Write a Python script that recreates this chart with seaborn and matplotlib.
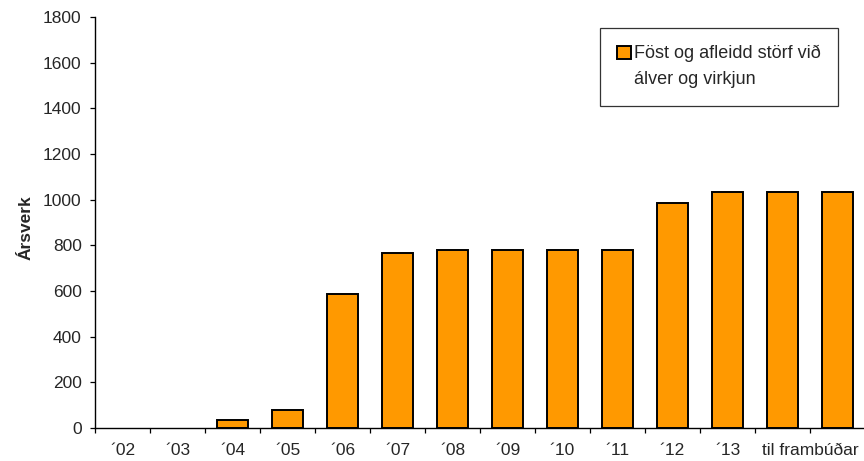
import matplotlib
matplotlib.use("Agg")
import matplotlib.pyplot as plt
from matplotlib.patches import Patch
import seaborn as sns
import pandas as pd

categories = ["´02", "´03", "´04", "´05", "´06", "´07", "´08", "´09", "´10", "´11", "´12", "´13", "c14", "c15"]
values = [0, 0, 35, 80, 585, 765, 780, 780, 780, 780, 985, 1035, 1035, 1035]
tick_labels = ["´02", "´03", "´04", "´05", "´06", "´07", "´08", "´09", "´10", "´11", "´12", "´13", "til frambúðar"]
series_lines = ["Föst og afleidd störf við", "álver og virkjun"]
y_ticks = [0, 200, 400, 600, 800, 1000, 1200, 1400, 1600, 1800]

sns.set_theme(style="white")
plt.rcParams['font.family'] = ['Liberation Sans', 'DejaVu Sans']

df = pd.DataFrame({"cat": categories, "val": values})

fig = plt.figure(figsize=(8.64, 4.61), dpi=100)
ax = fig.add_axes([95/864, 1 - 428/461, 770/864, 411/461])

sns.barplot(data=df, x="cat", y="val", color="#FF9900", edgecolor="black",
            linewidth=1.4, width=0.58, saturation=1, ax=ax)

ax.set_xlim(-0.5, len(categories) - 0.5)
ax.set_ylim(0, 1800)
ax.set_yticks(y_ticks)
ax.set_yticklabels([str(v) for v in y_ticks], fontsize=12.5)

# category boundaries as major ticks, labels as minor ticks
ax.xaxis.remove_overlapping_locs = False
bounds = [i - 0.5 for i in range(len(categories) + 1)]
ax.set_xticks(bounds)
ax.set_xticklabels([""] * len(bounds))
label_pos = list(range(len(tick_labels) - 1)) + [len(categories) - 1.5]
ax.set_xticks(label_pos, minor=True)
ax.set_xticklabels(tick_labels, minor=True, fontsize=12.5)
ax.tick_params(axis="x", which="major", direction="out", length=3.6, width=0.9, color="black", bottom=True)
ax.tick_params(axis="x", which="minor", length=0, pad=11, bottom=True)
ax.tick_params(axis="y", direction="out", length=3.6, width=0.9, color="black", left=True, pad=6)

for s in ["top", "right"]:
    ax.spines[s].set_visible(False)
for s in ["left", "bottom"]:
    ax.spines[s].set_color("black")
    ax.spines[s].set_linewidth(1.0)

ax.set_xlabel("")
ax.set_ylabel("Ársverk", fontsize=12.5, fontweight="bold", labelpad=8)
ax.yaxis.set_label_coords(-0.08, 0.487)

handles = [Patch(facecolor="#FF9900", edgecolor="black", linewidth=1.4),
           Patch(facecolor="none", edgecolor="none")]
leg = ax.legend(handles, series_lines, loc="upper left",
                bbox_to_anchor=((600-95)/770, (428-28)/411),
                fontsize=13, frameon=True, fancybox=False, edgecolor="black",
                handlelength=0.75, handleheight=0.75, handletextpad=0.2,
                borderpad=0.95, borderaxespad=0, labelspacing=0.5)
leg.get_frame().set_linewidth(0.9)

# hide empty (zero-height) bars
for p in ax.patches:
    if p.get_height() == 0:
        p.set_visible(False)

fig.savefig("out.png", dpi=100)
